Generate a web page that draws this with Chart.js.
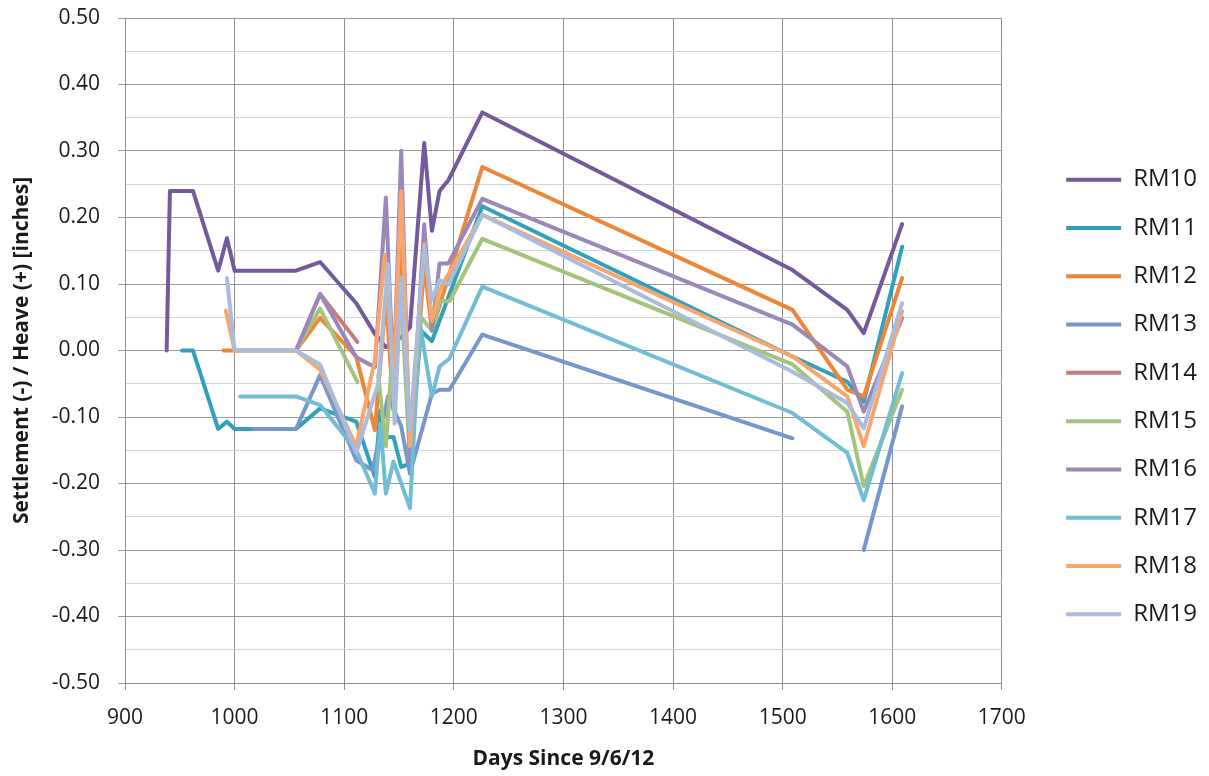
<!DOCTYPE html>
<html>
<head>
<meta charset="utf-8">
<script src="https://cdn.jsdelivr.net/npm/chart.js@4.4.1/dist/chart.umd.min.js"></script>
<style>
html,body{margin:0;padding:0;background:#fff;}
#wrap{width:1209px;height:776px;position:relative;}
</style>
</head>
<body>
<div id="wrap"><canvas id="c" width="1209" height="776"></canvas></div>
<script>
// ---- data ----
const seriesNames = ["RM10","RM11","RM12","RM13","RM14","RM15","RM16","RM17","RM18","RM19"];
const seriesColors = ["#735A9C","#31A0BC","#EE8637","#7597CB","#C97B7B","#A3C47A","#9A88BA","#72BCD4","#F8A66E","#A9BDDB"];

const rm10Days = [938,941,962,985,993,1000,1056,1078,1111,1128,1138,1152,1160,1173,1180,1187,1195,1226,1509,1559,1574,1609];
const rm10Vals = [0,0.24,0.24,0.12,0.169,0.12,0.12,0.133,0.071,0.025,0.005,0.02,0.035,0.312,0.18,0.24,0.256,0.358,0.121,0.061,0.026,0.19];

const rm11Days = [952,962,985,993,1000,1056,1078,1111,1128,1133,1138,1145,1152,1160,1170,1180,1226,1509,1559,1574,1609];
const rm11Vals = [0,0,-0.118,-0.107,-0.118,-0.118,-0.087,-0.107,-0.19,-0.09,-0.13,-0.13,-0.175,-0.17,0.03,0.014,0.217,-0.009,-0.047,-0.077,0.156];

const rm12Days = [990,1000,1056,1078,1111,1128,1138,1145,1152,1160,1173,1180,1226,1509,1559,1574,1609];
const rm12Vals = [0,0,0,0.049,-0.009,-0.12,0.08,-0.09,0.19,-0.16,0.13,0.03,0.276,0.061,-0.059,-0.069,0.109];

const rm13Days = [1017,1056,1078,1111,1126,1140,1152,1160,1180,1187,1196,1226,1509,1559,1574,1609];
const rm13Vals = [-0.118,-0.118,-0.037,-0.165,-0.18,-0.069,-0.114,-0.185,-0.065,-0.059,-0.059,0.024,-0.132,null,-0.30,-0.084];

const rm14Days = [1056,1078,1112];
const rm14Vals = [0,0.085,0.013];

const rm15Days = [1056,1078,1112,1122,1131,1138,1145,1152,1160,1170,1180,1187,1196,1226,1509,1559,1574,1609];
const rm15Vals = [0,0.063,-0.047,null,-0.037,-0.144,0.02,0.08,-0.165,0.05,0.03,0.074,0.074,0.168,-0.021,-0.092,-0.204,-0.059];

const rm16Days = [1056,1078,1111,1128,1138,1145,1152,1160,1173,1180,1187,1195,1226,1509,1559,1574,1609];
const rm16Vals = [0,0.085,-0.01,-0.025,0.23,-0.05,0.30,-0.17,0.19,0.03,0.131,0.131,0.228,0.039,-0.024,-0.092,0.049];

const rm17Days = [1005,1056,1078,1111,1128,1133,1138,1145,1160,1169,1180,1187,1196,1226,1509,1559,1574,1609];
const rm17Vals = [-0.069,-0.069,-0.082,-0.15,-0.215,-0.11,-0.215,-0.167,-0.237,0.04,-0.069,-0.024,-0.012,0.096,-0.094,-0.154,-0.225,-0.034];

const rm18Days = [992,1000,1056,1078,1111,1128,1137,1145,1152,1160,1173,1180,1187,1226,1509,1559,1574,1609];
const rm18Vals = [0.06,0,0,-0.029,-0.144,-0.014,0.144,-0.047,0.24,-0.144,0.16,0.044,0.091,0.204,-0.009,-0.069,-0.144,0.059];

const rm19Days = [993,1000,1056,1078,1111,1131,1140,1146,1152,1160,1173,1180,1187,1195,1226,1509,1559,1574,1609];
const rm19Vals = [0.109,0,0,-0.021,-0.154,-0.05,0.13,-0.11,0.11,-0.12,0.156,0.076,0.106,0.099,0.204,-0.032,-0.079,-0.117,0.071];

const xTicks = [900,1000,1100,1200,1300,1400,1500,1600,1700];
const yTickLabels = ["0.50","0.40","0.30","0.20","0.10","0.00","-0.10","-0.20","-0.30","-0.40","-0.50"];

const allDays = [rm10Days,rm11Days,rm12Days,rm13Days,rm14Days,rm15Days,rm16Days,rm17Days,rm18Days,rm19Days];
const allVals = [rm10Vals,rm11Vals,rm12Vals,rm13Vals,rm14Vals,rm15Vals,rm16Vals,rm17Vals,rm18Vals,rm19Vals];

const FONT = "'Open Sans', 'Liberation Sans', sans-serif";
const TEXT = '#1a1a1a';

const datasets = seriesNames.map((name, i) => ({
  label: name,
  data: allDays[i].map((d, j) => ({x: d, y: allVals[i][j]})),
  borderColor: seriesColors[i],
  backgroundColor: seriesColors[i],
  borderWidth: 4,
  pointRadius: 0,
  pointHoverRadius: 0,
  showLine: true,
  tension: 0,
  spanGaps: false,
  borderJoinStyle: 'round',
  borderCapStyle: 'round',
  order: seriesNames.length - 1 - i,
  yAxisID: 'y'
}));

const isMajor = v => Math.abs(Math.round(v * 100)) % 10 === 0;
const zeroPad = s => { s.paddingTop = 0; s.paddingBottom = 0; };

new Chart(document.getElementById('c'), {
  type: 'scatter',
  data: { datasets },
  options: {
    responsive: false,
    animation: false,
    devicePixelRatio: 1,
    layout: { padding: { left: 0, right: 2, top: 18, bottom: 0 } },
    plugins: {
      tooltip: { enabled: false },
      legend: {
        position: 'right',
        align: 'center',
        labels: {
          boxWidth: 55,
          boxHeight: 4,
          padding: 24.3,
          color: TEXT,
          font: { family: FONT, size: 24 },
          sort: (a, b) => a.datasetIndex - b.datasetIndex,
          generateLabels: (chart) => chart.data.datasets.map((ds, i) => ({
            text: ds.label,
            fillStyle: ds.borderColor,
            strokeStyle: ds.borderColor,
            fontColor: TEXT,
            lineWidth: 0,
            datasetIndex: i,
            hidden: false
          }))
        }
      }
    },
    scales: {
      x: {
        type: 'linear',
        min: 900, max: 1700,
        afterBuildTicks: s => { s.ticks = xTicks.map(v => ({value: v})); },
        ticks: { color: TEXT, font: { family: FONT, size: 21 }, padding: 15,
                 callback: v => String(v) },
        grid: { color: '#8f8f8f', lineWidth: 1, tickLength: 7, tickColor: '#8f8f8f' },
        border: { color: '#8f8f8f', width: 1 },
        title: { display: true, text: 'Days Since 9/6/12', color: TEXT,
                 font: { family: FONT, size: 21, weight: 'bold' }, padding: { top: 8, bottom: 4 } },
        afterFit: s => { s.height = 93; }
      },
      y: {
        type: 'linear',
        position: 'left',
        min: -0.5, max: 0.5,
        ticks: { stepSize: 0.05, color: TEXT, font: { family: FONT, size: 21 }, padding: 18,
                 callback: v => isMajor(v) ? yTickLabels[Math.round((0.5 - v) * 10)] : '' },
        grid: {
          color: ctx => isMajor(ctx.tick.value) ? '#9a9a9a' : '#d4d4d4',
          tickColor: ctx => isMajor(ctx.tick.value) ? '#9a9a9a' : 'rgba(0,0,0,0)',
          lineWidth: 1, tickLength: 7
        },
        border: { color: '#8f8f8f', width: 1 },
        title: { display: true, text: 'Settlement (-) / Heave (+) [inches]', color: TEXT,
                 font: { family: FONT, size: 21, weight: 'bold' }, padding: { top: 9, bottom: 4 } },
        afterFit: s => { s.width = 125; zeroPad(s); }
      },
      gap: {
        type: 'linear',
        position: 'right',
        display: true,
        grid: { display: false, drawTicks: false },
        border: { display: false },
        ticks: { display: false },
        afterFit: s => { s.width = 40; zeroPad(s); }
      }
    }
  }
});
</script>
</body>
</html>
